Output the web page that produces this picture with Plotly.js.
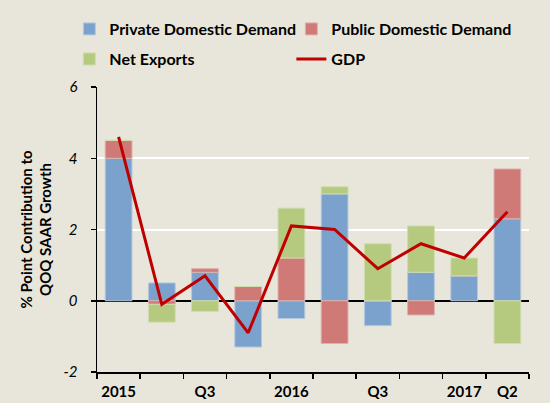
<!DOCTYPE html>
<html><head><meta charset="utf-8">
<script src="https://cdn.plot.ly/plotly-3.0.1.min.js"></script>
<style>html,body{margin:0;padding:0;background:#E8E6DA;}</style>
</head><body>
<div id="chart" style="width:550px;height:403px;"></div>
<script>
var quarters = ["2015Q1","2015Q2","2015Q3","2015Q4","2016Q1","2016Q2","2016Q3","2016Q4","2017Q1","2017Q2"];
var tickLabels = ["2015","","Q3","","2016","","Q3","","2017","Q2"];
var privateDemand = [4.0, 0.5, 0.8, -1.3, -0.5, 3.0, -0.7, 0.8, 0.7, 2.3];
var publicDemand  = [0.5, -0.1, 0.1, 0.4, 1.2, -1.2, 0.0, -0.4, 0.0, 1.4];
var netExports    = [0.0, -0.5, -0.3, 0.0, 1.4, 0.2, 1.6, 1.3, 0.5, -1.2];
var gdp           = [4.6, -0.1, 0.7, -0.9, 2.1, 2.0, 0.9, 1.6, 1.2, 2.5];

var font = "Lato, 'Open Sans', sans-serif";
var traces = [
  {type:"bar", name:"Private Domestic Demand", x:quarters, y:privateDemand, legend:"legend",
   marker:{color:"#7BA1CD", line:{color:"#B7C9DD", width:1}}},
  {type:"bar", name:"Public Domestic Demand", x:quarters, y:publicDemand, legend:"legend",
   marker:{color:"#CF7A77", line:{color:"#DDB2AE", width:1}}},
  {type:"bar", name:"Net Exports", x:quarters, y:netExports, legend:"legend2",
   marker:{color:"#B5CA7F", line:{color:"#CFDCAE", width:1}}},
  {type:"scatter", mode:"lines", name:"GDP", x:quarters, y:gdp, legend:"legend2",
   line:{color:"#C00000", width:3}}
];
var legendBase = {orientation:"h", x:-0.064, xanchor:"left", yanchor:"middle",
  entrywidth:177, entrywidthmode:"pixels", bgcolor:"rgba(0,0,0,0)",
  font:{family:font, size:16, weight:"bold"}, traceorder:"normal"};
var layout = {
  width:550, height:403,
  paper_bgcolor:"#E8E6DA", plot_bgcolor:"#E8E6DA",
  margin:{l:97, r:21, t:87, b:31, autoexpand:false},
  barmode:"relative", bargap:0.38,
  font:{family:font, size:16, color:"#000"},
  showlegend:true,
  legend:Object.assign({}, legendBase, {y:1.2035}),
  legend2:Object.assign({}, legendBase, {y:1.098}),
  xaxis:{type:"category", tickmode:"array", tickvals:quarters, ticktext:tickLabels,
         tickson:"boundaries", ticks:"outside", ticklen:5, tickwidth:1.5, tickcolor:"#000",
         showline:true, linecolor:"#000", linewidth:1.5, showgrid:false, tickangle:0,
         automargin:false, ticklabelstandoff:5,
         tickfont:{family:font, size:15, weight:"bold"}},
  yaxis:{range:[-2,6], tickvals:[-2,0,2,4,6], ticktext:["-2","0","2","4","6"],
         ticks:"outside", ticklen:5, tickwidth:1.5, tickcolor:"#000",
         showline:true, linecolor:"#000", linewidth:1.5, automargin:false,
         ticklabelstandoff:10,
         showgrid:true, gridcolor:"#FFFFFF", gridwidth:2,
         zeroline:true, zerolinecolor:"#000", zerolinewidth:1.5,
         tickfont:{family:font, size:15, style:"italic"},
         title:{text:"% Point Contribution to<br>QOQ SAAR Growth", standoff:8,
                font:{family:font, size:15, weight:"bold"}}}
};
Plotly.newPlot("chart", traces, layout, {displayModeBar:false, staticPlot:true});
</script>
</body></html>
